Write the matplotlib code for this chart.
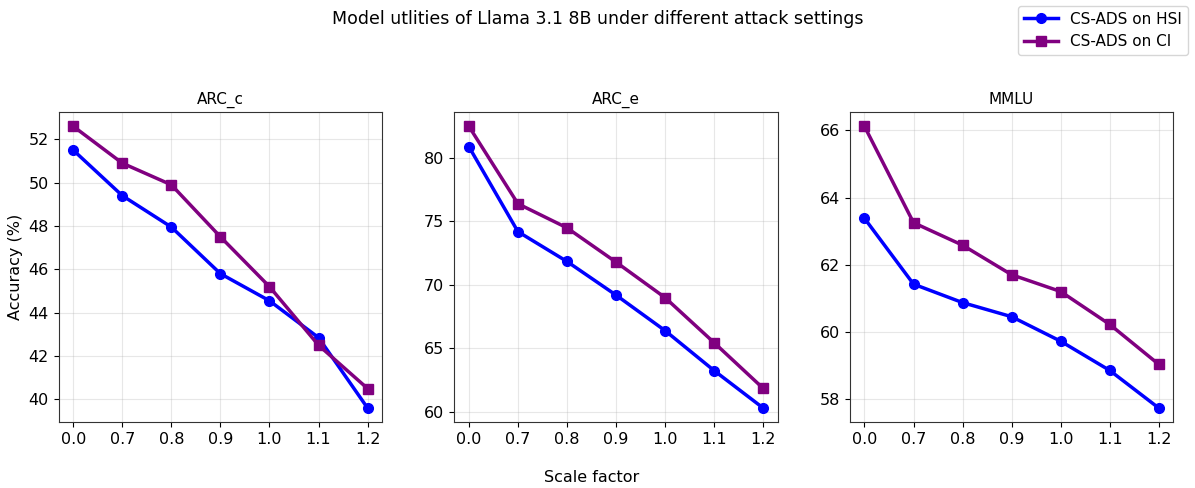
import numpy as np
import matplotlib.pyplot as plt

# Scale factors (categorical x axis)
scales = ['0.0', '0.7', '0.8', '0.9', '1.0', '1.1', '1.2']
tasks = ['ARC_c', 'ARC_e', 'MMLU']

# Accuracy (%) for CS-ADS on HSI
hsi_arc_c = [51.5, 49.4, 47.95, 45.8, 44.55, 42.85, 39.6]
hsi_arc_e = [80.9, 74.2, 71.85, 69.2, 66.4, 63.25, 60.3]
hsi_mmlu = [63.38, 61.42, 60.87, 60.45, 59.72, 58.85, 57.73]

# Accuracy (%) for CS-ADS on CI
ci_arc_c = [52.6, 50.9, 49.9, 47.5, 45.2, 42.5, 40.5]
ci_arc_e = [82.5, 76.4, 74.5, 71.8, 69.0, 65.45, 61.85]
ci_mmlu = [66.12, 63.25, 62.58, 61.7, 61.2, 60.22, 59.03]

hsi = [hsi_arc_c, hsi_arc_e, hsi_mmlu]
ci = [ci_arc_c, ci_arc_e, ci_mmlu]

x = np.arange(len(scales))
fig, axes = plt.subplots(1, 3, figsize=(11.95, 4.88), dpi=100)
for i, ax in enumerate(axes):
    ax.plot(x, hsi[i], color='blue', marker='o', lw=2.5, ms=7, label='CS-ADS on HSI')
    ax.plot(x, ci[i], color='purple', marker='s', lw=2.5, ms=7, label='CS-ADS on CI')
    ax.set_xticks(x)
    ax.set_xticklabels(scales)
    ax.set_title(tasks[i], fontsize=11)
    ax.grid(True, alpha=0.3)
    ax.tick_params(labelsize=11.5)
    for s in ax.spines.values():
        s.set_color('#333333')
axes[0].set_ylabel('Accuracy (%)', fontsize=11.5)

handles, labels = axes[0].get_legend_handles_labels()
fig.legend(handles, labels, loc='upper right', bbox_to_anchor=(0.998, 0.998), fontsize=11,
           handlelength=2.2, borderaxespad=0.3)
fig.suptitle('Model utlities of Llama 3.1 8B under different attack settings', fontsize=12.5, y=0.98)
fig.text(0.495, 0.012, 'Scale factor', ha='center', fontsize=11.5)

plt.subplots_adjust(left=0.049, right=0.982, top=0.77, bottom=0.135, wspace=0.222)
plt.savefig('out.png')
